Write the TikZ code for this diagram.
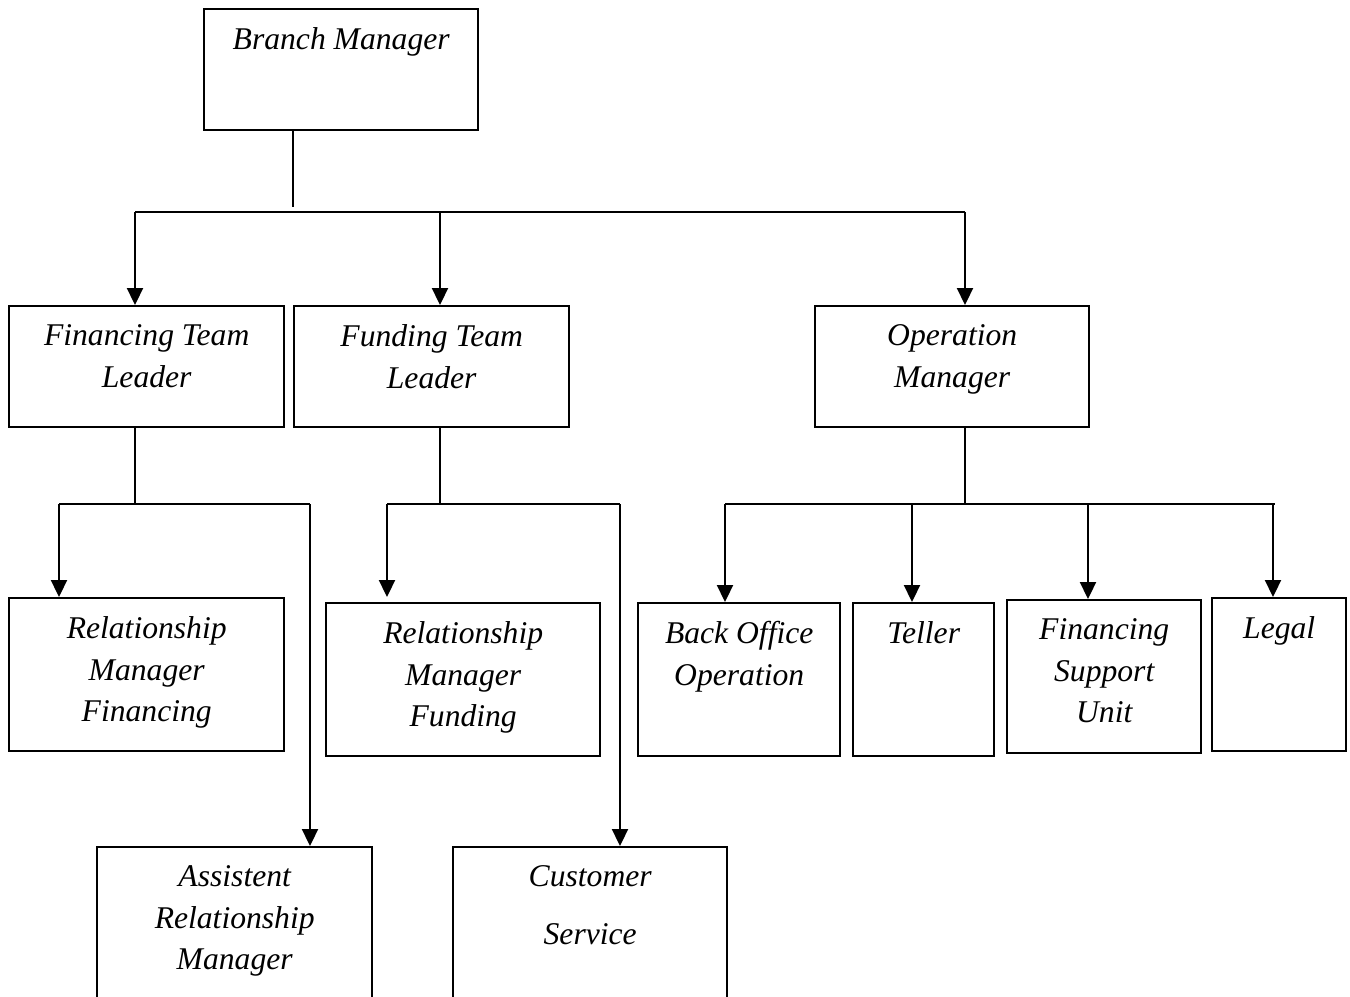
\documentclass[tikz,border=0pt]{standalone}
\usepackage{fontspec}
\setmainfont{Liberation Serif}
\usetikzlibrary{arrows.meta,positioning}

\tikzset{
    unit/.style={draw, line width=1.4pt, anchor=north west, inner sep=0pt},
    txt/.style={inner sep=0pt, align=center, font=\fontsize{18}{23.8}\selectfont\itshape},
    link/.style={line width=1.3pt},
    feed/.style={link, -{Triangle[length=0.34cm, width=0.32cm]}},
}

\begin{document}
\begin{tikzpicture}[x=0.02cm, y=-0.02cm]
    \useasboundingbox (0,0) rectangle (1350,997);
    \clip (0,0) rectangle (1350,997);

    \node[unit, minimum width=5.48cm, minimum height=2.42cm] (bm) at (203,8) {};
    \node[unit, minimum width=5.5cm, minimum height=2.42cm] (ftl) at (8,305) {};
    \node[unit, minimum width=5.5cm, minimum height=2.42cm] (fdl) at (293,305) {};
    \node[unit, minimum width=5.48cm, minimum height=2.42cm] (om) at (814,305) {};
    \node[unit, minimum width=5.5cm, minimum height=3.06cm] (rmf) at (8,597) {};
    \node[unit, minimum width=5.48cm, minimum height=3.06cm] (rmd) at (325,602) {};
    \node[unit, minimum width=4.04cm, minimum height=3.06cm] (bo) at (637,602) {};
    \node[unit, minimum width=2.82cm, minimum height=3.06cm] (tel) at (852,602) {};
    \node[unit, minimum width=3.88cm, minimum height=3.06cm] (fsu) at (1006,599) {};
    \node[unit, minimum width=2.68cm, minimum height=3.06cm] (leg) at (1211,597) {};
    \node[unit, minimum width=5.5cm, minimum height=4cm] (arm) at (96,846) {};
    \node[unit, minimum width=5.48cm, minimum height=4cm] (cs) at (452,846) {};

    \node[txt, below=0.38cm of bm.north] (bm-t) {Branch Manager};
    \node[txt, below=0.38cm of ftl.north] (ftl-t) {Financing Team\\Leader};
    \node[txt, below=0.38cm of fdl.north] (fdl-t) {Funding Team\\Leader};
    \node[txt, below=0.38cm of om.north] (om-t) {Operation\\Manager};
    \node[txt, below=0.38cm of rmf.north] (rmf-t) {Relationship\\Manager\\Financing};
    \node[txt, below=0.38cm of rmd.north] (rmd-t) {Relationship\\Manager\\Funding};
    \node[txt, below=0.38cm of bo.north] (bo-t) {Back Office\\Operation};
    \node[txt, below=0.38cm of tel.north] (tel-t) {Teller};
    \node[txt, below=0.38cm of fsu.north] (fsu-t) {Financing\\Support\\Unit};
    \node[txt, below=0.38cm of leg.north] (leg-t) {Legal};
    \node[txt, below=0.38cm of arm.north] (arm-t) {Assistent\\Relationship\\Manager};
    \node[txt, below=0.38cm of cs.north] (cs-t) {Customer\\[9.6pt]Service};

    \coordinate (jbm) at (293,207);
    \coordinate (t1) at (135,212);
    \coordinate (t2) at (440,212);
    \coordinate (t3) at (965,212);
    \draw[link] (bm.south -| jbm) -- (jbm);
    \draw[link] (t1) -- (t3);
    \draw[feed] (t1) -- (t1 |- ftl.north);
    \draw[feed] (t2) -- (t2 |- fdl.north);
    \draw[feed] (t3) -- (t3 |- om.north);

    \coordinate (jf) at (135,504);
    \coordinate (f1) at (59,504);
    \coordinate (f2) at (310,504);
    \draw[link] (ftl.south -| jf) -- (jf);
    \draw[link] (f1) -- (f2);
    \draw[feed] (f1) -- (f1 |- rmf.north);
    \draw[feed] (f2) -- (f2 |- arm.north);

    \coordinate (jd) at (440,504);
    \coordinate (d1) at (387,504);
    \coordinate (d2) at (620,504);
    \draw[link] (fdl.south -| jd) -- (jd);
    \draw[link] (d1) -- (d2);
    \draw[feed, shorten >=0.1cm] (d1) -- (d1 |- rmd.north);
    \draw[feed] (d2) -- (d2 |- cs.north);

    \coordinate (jo) at (965,504);
    \coordinate (o1) at (725,504);
    \coordinate (o2) at (912,504);
    \coordinate (o3) at (1088,504);
    \coordinate (o4) at (1273,504);
    \draw[link] (om.south -| jo) -- (jo);
    \draw[link] (o1) -- (1275,504);
    \foreach \c/\b in {o1/bo, o2/tel, o3/fsu, o4/leg}
        \draw[feed] (\c) -- (\c |- \b.north);
\end{tikzpicture}
\end{document}
